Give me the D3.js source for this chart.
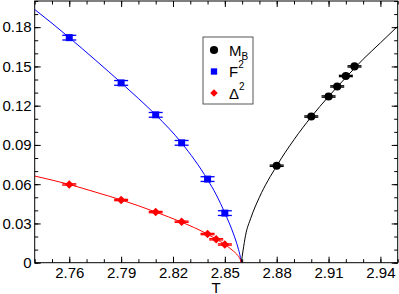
<!DOCTYPE html>
<html>
<head>
<meta charset="utf-8">
<script src="https://cdn.jsdelivr.net/npm/d3@7"></script>
<style>
  body { margin: 0; background: #fff; }
  svg { display: block; font-family: "Liberation Sans", Arial, sans-serif; }
  .axis text { font-size: 15px; fill: #000; }
  .axis line { stroke: #000; }
  .axis path { display: none; }
</style>
</head>
<body>
<svg id="chart"></svg>
<script>
// data
const mbT   = [2.88, 2.90, 2.91, 2.915, 2.92, 2.925];
const mbVal = [0.0741, 0.1117, 0.127, 0.1347, 0.1427, 0.150];
const mbErr = [0.0005, 0.0005, 0.0005, 0.0005, 0.0005, 0.0005];

const fT   = [2.76, 2.79, 2.81, 2.825, 2.84, 2.85];
const fVal = [0.172, 0.1374, 0.113, 0.0916, 0.0639, 0.0379];
const fErr = [0.0018, 0.0018, 0.0018, 0.0018, 0.0018, 0.0018];

const dT   = [2.76, 2.79, 2.81, 2.825, 2.84, 2.845, 2.85];
const dVal = [0.0598, 0.0479, 0.0387, 0.0313, 0.0219, 0.0179, 0.0139];
const dErr = [0.0005, 0.0005, 0.0005, 0.0005, 0.0005, 0.0005, 0.0005];

// fitted curves, points
const fitF = [[2.74,0.1935],[2.75,0.183],[2.76,0.172],[2.775,0.155],[2.79,0.1375],[2.80,0.1255],
  [2.81,0.113],[2.825,0.0915],[2.84,0.0635],[2.845,0.052],[2.85,0.038],[2.855,0.022],
  [2.8575,0.012],[2.859,0.004],[2.8595,0]];
const fitD = [[2.74,0.0662],[2.76,0.0598],[2.775,0.054],[2.79,0.048],[2.81,0.0387],[2.825,0.031],
  [2.84,0.0218],[2.845,0.018],[2.85,0.0139],[2.855,0.0088],[2.8575,0.0055],[2.859,0.0022],[2.8595,0]];
const fitM = [[2.8595,0],[2.8605,0.009],[2.862,0.021],[2.865,0.034],[2.87,0.05],[2.88,0.074],
  [2.89,0.094],[2.90,0.1115],[2.91,0.127],[2.92,0.1415],[2.93,0.1555],[2.94,0.168],[2.95,0.1807]];

const xTicks = [2.76, 2.79, 2.82, 2.85, 2.88, 2.91, 2.94];
const yTicks = [0, 0.03, 0.06, 0.09, 0.12, 0.15, 0.18];
const xDomain = [2.74, 2.95];
const yDomain = [0, 0.2];

const W = 399, H = 294;
const margin = { top: 1, right: 1.3, bottom: 31.3, left: 34.7 };
const width = W - margin.left - margin.right;
const height = H - margin.top - margin.bottom;

const svg = d3.select('#chart').attr('width', W).attr('height', H);
const chart = svg.append('g').attr('transform', `translate(${margin.left},${margin.top})`);

const x = d3.scaleLinear().domain(xDomain).range([0, width]);
const y = d3.scaleLinear().domain(yDomain).range([height, 0]);

const xMinor = d3.range(274, 296).map(d => d / 100);
const yMinor = d3.range(0, 21).map(d => d / 100);
const yFmt = d => d === 0 ? '0' : d3.format('.2f')(d);

// minor ticks
chart.append('g').attr('class', 'axis').attr('transform', `translate(0,${height})`)
  .call(d3.axisBottom(x).tickValues(xMinor).tickSize(-3.5).tickFormat(''));
chart.append('g').attr('class', 'axis')
  .call(d3.axisTop(x).tickValues(xMinor).tickSize(-3.5).tickFormat(''));
chart.append('g').attr('class', 'axis')
  .call(d3.axisLeft(y).tickValues(yMinor).tickSize(-3.5).tickFormat(''));
chart.append('g').attr('class', 'axis').attr('transform', `translate(${width},0)`)
  .call(d3.axisRight(y).tickValues(yMinor).tickSize(-3.5).tickFormat(''));

// major ticks
chart.append('g').attr('class', 'axis').attr('transform', `translate(0,${height})`)
  .call(d3.axisBottom(x).tickValues(xTicks).tickSize(-6).tickPadding(4.5).tickFormat(d3.format('.2f')));
chart.append('g').attr('class', 'axis')
  .call(d3.axisTop(x).tickValues(xTicks).tickSize(-6).tickFormat(''));
chart.append('g').attr('class', 'axis')
  .call(d3.axisLeft(y).tickValues(yTicks).tickSize(-6).tickPadding(3).tickFormat(yFmt));
chart.append('g').attr('class', 'axis').attr('transform', `translate(${width},0)`)
  .call(d3.axisRight(y).tickValues(yTicks).tickSize(-6).tickFormat(''));

chart.append('rect')
  .attr('width', width).attr('height', height)
  .attr('fill', 'none').attr('stroke', '#000').attr('stroke-width', 1);

chart.append('text')
  .attr('x', width / 2).attr('y', height + 30)
  .attr('text-anchor', 'middle').style('font-size', '15px')
  .text('T');

// curves
const line = d3.line().x(d => x(d[0])).y(d => y(d[1])).curve(d3.curveMonotoneX);
chart.append('clipPath').attr('id', 'clip').append('rect')
  .attr('width', width).attr('height', height);
[[fitF, '#0000ff'], [fitD, '#ff0000'], [fitM, '#000']].forEach(([pts, c]) => {
  chart.append('path').datum(pts)
    .attr('clip-path', 'url(#clip)')
    .attr('fill', 'none').attr('stroke', c).attr('stroke-width', 1)
    .attr('d', line);
});

// points with error bars (caps)
function drawSeries(ts, vals, errs, color, symbolType, size, rot) {
  const data = ts.map((t, i) => ({ t, v: vals[i], e: errs[i] }));
  const g = chart.append('g');
  const items = g.selectAll('g').data(data).join('g')
    .attr('transform', d => `translate(${x(d.t)},${y(d.v)})`);
  items.append('line')
    .attr('x1', -7).attr('x2', 7)
    .attr('y1', d => y(d.v + d.e) - y(d.v)).attr('y2', d => y(d.v + d.e) - y(d.v))
    .attr('stroke', color).attr('stroke-width', 1.3);
  items.append('line')
    .attr('x1', -7).attr('x2', 7)
    .attr('y1', d => y(d.v - d.e) - y(d.v)).attr('y2', d => y(d.v - d.e) - y(d.v))
    .attr('stroke', color).attr('stroke-width', 1.3);
  items.append('path')
    .attr('transform', `rotate(${rot || 0})`)
    .attr('d', d3.symbol().type(symbolType).size(size))
    .attr('fill', color);
}
drawSeries(fT, fVal, fErr, '#0000ff', d3.symbolSquare, 49);
drawSeries(dT, dVal, dErr, '#ff0000', d3.symbolSquare, 36, 45);
drawSeries(mbT, mbVal, mbErr, '#000', d3.symbolCircle, 52);

// legend
const legend = svg.append('g').attr('transform', 'translate(203,37)');
legend.append('rect').attr('width', 50).attr('height', 67)
  .attr('fill', '#fff').attr('stroke', '#555').attr('stroke-width', 1);
const legendItems = [
  { color: '#000', sym: d3.symbolCircle, size: 52, rot: 0, main: 'M', sub: 'B', sup: null },
  { color: '#0000ff', sym: d3.symbolSquare, size: 40, rot: 0, main: 'F', sub: null, sup: '2' },
  { color: '#ff0000', sym: d3.symbolSquare, size: 28, rot: 45, main: '\u0394', sub: null, sup: '2' }
];
legendItems.forEach((d, i) => {
  const cy = 13 + i * 21.5;
  legend.append('path').attr('transform', `translate(11,${cy}) rotate(${d.rot})`)
    .attr('d', d3.symbol().type(d.sym).size(d.size)).attr('fill', d.color);
  const t = legend.append('text').attr('x', 26).attr('y', cy + 5.5).style('font-size', '15px');
  t.append('tspan').text(d.main);
  if (d.sub) t.append('tspan').attr('dy', 4).style('font-size', '10px').text(d.sub);
  if (d.sup) t.append('tspan').attr('dy', -9).style('font-size', '10px').text(d.sup);
});
</script>
</body>
</html>
